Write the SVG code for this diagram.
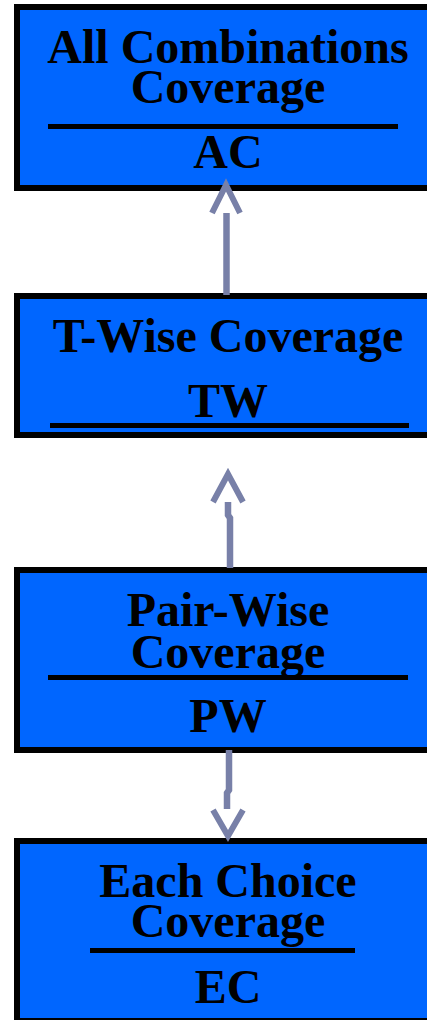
<svg xmlns="http://www.w3.org/2000/svg" width="427" height="1020" viewBox="0 0 427 1020">
<style>
.box{fill:#0066FF;stroke:#000;stroke-width:6}
.t{font-family:"Liberation Serif","Times New Roman",serif;font-weight:bold;font-size:48px;fill:#000;text-anchor:middle}
.rule{stroke:#000;stroke-width:5}
.conn{fill:none;stroke:#7880A8;stroke-width:6.5}
.head{fill:none;stroke:#7880A8;stroke-width:6}
</style>
<rect width="427" height="1020" fill="#fff"/>
<g id="AC">
<rect class="box" x="17" y="7" width="430" height="181"/>
<text class="t" x="228" y="63">All Combinations</text>
<text class="t" x="228" y="103">Coverage</text>
<line class="rule" x1="48" y1="126.5" x2="398" y2="126.5"/>
<text class="t" x="228" y="168">AC</text>
</g>
<g id="TW">
<rect class="box" x="17" y="296" width="430" height="139"/>
<text class="t" x="228" y="352">T-Wise Coverage</text>
<text class="t" x="228" y="417">TW</text>
<line class="rule" x1="50" y1="425.5" x2="409" y2="425.5"/>
</g>
<g id="PW">
<rect class="box" x="17" y="570" width="430" height="180"/>
<text class="t" x="228" y="626">Pair-Wise</text>
<text class="t" x="228" y="668">Coverage</text>
<line class="rule" x1="48" y1="677.5" x2="408" y2="677.5"/>
<text class="t" x="228" y="732">PW</text>
</g>
<g id="EC">
<rect class="box" x="17" y="841" width="430" height="180"/>
<text class="t" x="228" y="897">Each Choice</text>
<text class="t" x="228" y="937">Coverage</text>
<line class="rule" x1="90" y1="950.5" x2="355" y2="950.5"/>
<text class="t" x="228" y="1003">EC</text>
</g>
<g id="connectors">
<line class="conn" x1="226.5" y1="295" x2="226.5" y2="213"/>
<polyline class="head" points="212,213 226,185 240,213"/>
<polyline class="conn" points="230,568 230,518 228,515 228,502"/>
<polyline class="head" points="213,502 228,474 243,502"/>
<polyline class="conn" points="229,750 229,790 227,793 227,809"/>
<polyline class="head" points="213,810 228,836 243,810"/>
</g>
</svg>
